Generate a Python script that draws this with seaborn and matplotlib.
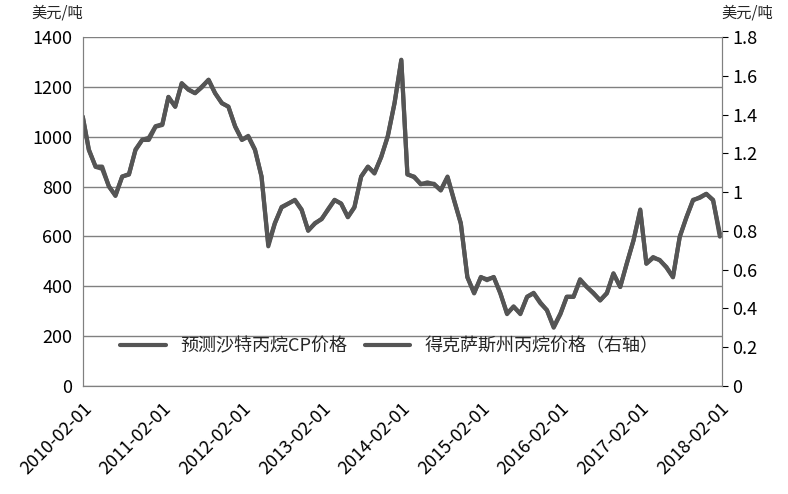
import matplotlib
matplotlib.use("Agg")
import matplotlib.pyplot as plt
import matplotlib.dates as mdates
import matplotlib.ticker as mticker
import numpy as np
import pandas as pd
import seaborn as sns

# monthly readings, 2010-02 .. 2018-02
cp_price = [1080, 946, 880, 880, 800, 765, 840, 850, 946, 987, 987, 1040,
            1047, 1160, 1121, 1215, 1188, 1175, 1201, 1228, 1175, 1134, 1121, 1040,
            987, 1000, 946, 840, 560, 651, 718, 732, 745, 705, 624, 651,
            671, 705, 745, 732, 678, 718, 840, 880, 852, 920, 1000, 1134,
            1309, 850, 837, 811, 811, 811, 784, 837, 744, 651, 437, 371,
            437, 424, 437, 371, 291, 317, 291, 357, 371, 331, 304, 237,
            291, 357, 357, 424, 397, 371, 344, 371, 451, 397, 491, 584,
            704, 491, 517, 504, 477, 437, 597, 677, 744, 757, 771, 744, 611]
texas_price = [1.39, 1.22, 1.13, 1.12, 1.03, 0.98, 1.08, 1.09, 1.22, 1.27, 1.28, 1.34,
               1.35, 1.49, 1.44, 1.56, 1.53, 1.51, 1.54, 1.58, 1.51, 1.46, 1.44, 1.34,
               1.27, 1.29, 1.22, 1.08, 0.73, 0.84, 0.92, 0.94, 0.96, 0.91, 0.80, 0.84,
               0.86, 0.91, 0.96, 0.94, 0.87, 0.92, 1.08, 1.13, 1.10, 1.18, 1.29, 1.46,
               1.68, 1.09, 1.08, 1.04, 1.05, 1.04, 1.01, 1.08, 0.96, 0.84, 0.56, 0.48,
               0.56, 0.55, 0.56, 0.48, 0.37, 0.41, 0.37, 0.46, 0.48, 0.43, 0.39, 0.30,
               0.37, 0.46, 0.46, 0.55, 0.51, 0.48, 0.44, 0.48, 0.58, 0.51, 0.63, 0.75,
               0.91, 0.63, 0.66, 0.65, 0.61, 0.56, 0.77, 0.87, 0.96, 0.97, 0.99, 0.96, 0.77]
dates = pd.date_range("2010-02-01", periods=len(cp_price), freq="MS")
tick_dates = pd.date_range("2010-02-01", "2018-02-01", freq="12MS")

sns.set_style("white")
plt.rcParams["font.family"] = ["Noto Sans CJK SC", "DejaVu Sans"]

df = pd.DataFrame({"date": dates, "cp": cp_price, "tx": texas_price})
col = "#555555"

fig = plt.figure(figsize=(7.88, 4.94), dpi=100)
ax = fig.add_axes([0.105, 0.219, 0.811, 0.706])
ax2 = ax.twinx()

sns.lineplot(data=df, x="date", y="cp", ax=ax, color=col, lw=3, label="预测沙特丙烷CP价格", legend=False)
sns.lineplot(data=df, x="date", y="tx", ax=ax2, color=col, lw=3, label="得克萨斯州丙烷价格（右轴）", legend=False)

ax.set_ylim(0, 1400)
ax.set_yticks(np.arange(0, 1401, 200))
ax2.set_ylim(0, 1.8)
ax2.set_yticks(np.arange(0, 1.81, 0.2))
ax2.yaxis.set_major_formatter(mticker.FuncFormatter(lambda v, p: f"{v:g}"))
ax.set_xlim(pd.Timestamp("2010-02-01"), pd.Timestamp("2018-02-10"))
ax.set_xticks(tick_dates)
ax.xaxis.set_major_formatter(mdates.DateFormatter("%Y-%m-%d"))
for lab in ax.get_xticklabels():
    lab.set_rotation(45)
    lab.set_ha("right")
    lab.set_rotation_mode("anchor")

ax.grid(axis="y", color="#808080", lw=1)
ax.set_axisbelow(True)
ax.set_xlabel("")
ax.set_ylabel("")
ax2.set_ylabel("")
for a in (ax, ax2):
    a.tick_params(labelsize=13, colors="black", length=4, direction="out")
    for s in a.spines.values():
        s.set_color("#808080")
    a.spines["top"].set_visible(False)
ax.tick_params(axis="y", left=False)
ax.tick_params(axis="x", pad=6)
ax2.tick_params(axis="y", right=True)

fig.text(0.04, 0.965, "美元/吨", fontsize=11)
fig.text(0.915, 0.965, "美元/吨", fontsize=11)

h1, l1 = ax.get_legend_handles_labels()
h2, l2 = ax2.get_legend_handles_labels()
ax.legend(h1 + h2, l1 + l2, loc="lower center", bbox_to_anchor=(0.48, 0.04), ncol=2,
          frameon=False, fontsize=13, handlelength=2.5, columnspacing=1.0)

fig.savefig("out.png", dpi=100)
